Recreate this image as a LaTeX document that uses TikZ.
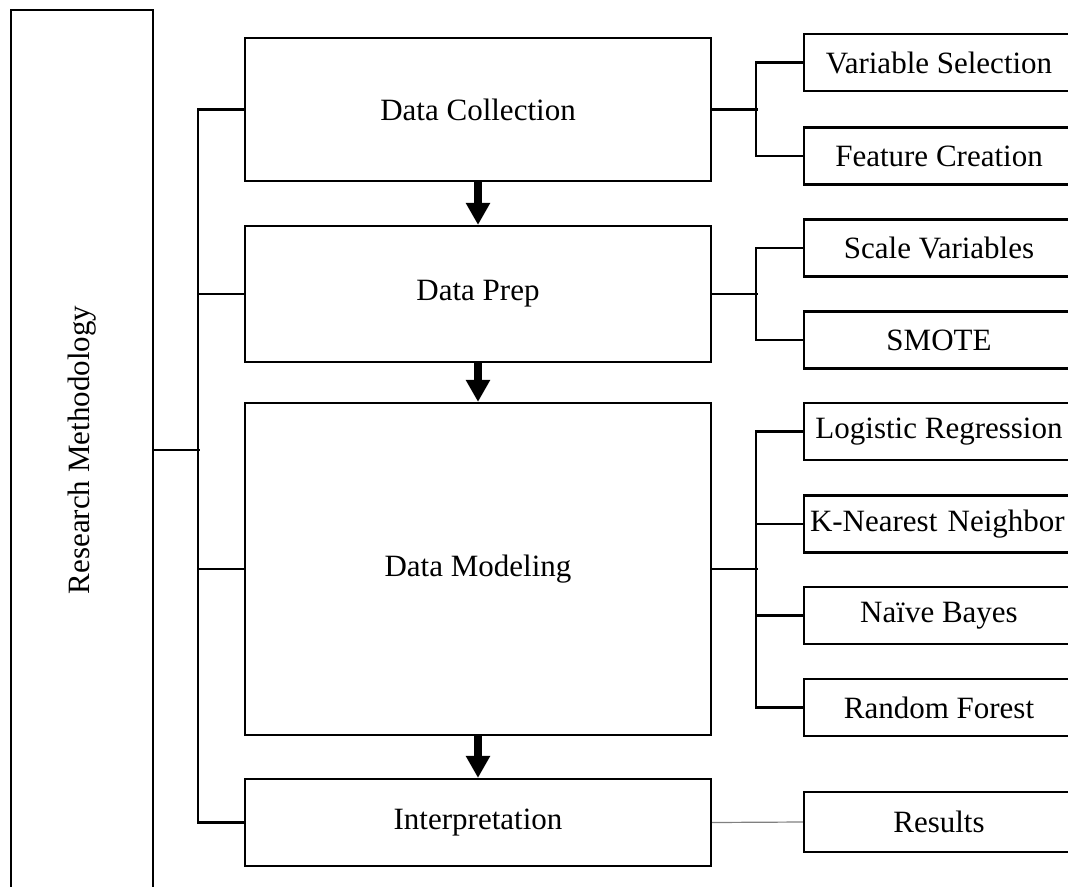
\documentclass[tikz,border=0pt]{standalone}
\usepackage{fontspec}
\setmainfont{Liberation Serif}
\usetikzlibrary{arrows.meta}
\begin{document}
\begin{tikzpicture}[x=1pt,y=-1pt,
  every node/.style={font=\fontsize{31}{37}\selectfont},
  mainbox/.style={draw, line width=2.2pt, inner sep=0pt, minimum width=466pt},
  subbox/.style={draw, line width=2.2pt, inner sep=0pt, minimum width=270pt, minimum height=57pt},
  linkline/.style={line width=2.2pt},
  flowarrow/.style={line width=8pt, -{Triangle[width=23pt,length=22pt]}}
]
\useasboundingbox (0,0) rectangle (1068,886);
\clip (0,0) rectangle (1068,886);

% overall frame on the left
\node[draw, line width=2.2pt, rotate=90, inner sep=0pt,
      minimum width=880pt, minimum height=142pt] (rm) at (82,450) {Research Methodology};

% main stages
\node[mainbox, minimum height=143pt] (dc) at (478,109.5) {Data Collection};
\node[mainbox, minimum height=136pt] (dp) at (478,294)   {Data Prep};
\node[mainbox, minimum height=332pt] (dm) at (478,569)   {Data Modeling};
\node[mainbox, minimum height=87pt]  (ip) at (478,822.5) {Interpretation};

% details of each stage
\node[subbox] (vs) at (939,62.5)  {Variable Selection};
\node[subbox] (fc) at (939,156)   {Feature Creation};
\node[subbox] (sv) at (939,248)   {Scale Variables};
\node[subbox] (sm) at (939,340)   {SMOTE};
\node[subbox] (lr) at (939,431.5) {Logistic Regression};
\node[subbox, text width=258pt, inner xsep=6pt, align=left] (kn) at (939,524) {K-Nearest Neighbor};
\node[subbox] (nb) at (939,615.5) {Naïve Bayes};
\node[subbox] (rf) at (939,707.5) {Random Forest};
\node[subbox, minimum height=60pt] (rs) at (939,822) {Results};

% flow between stages
\draw[flowarrow] (dc.south) -- (dp.north);
\draw[flowarrow] (dp.south) -- (dm.north);
\draw[flowarrow] (dm.south) -- (ip.north);

% left bus
\draw[linkline] (rm.south) -- ++(46,0);
\draw[linkline] (dc.west) -- ++(-46,0) |- (ip.west);
\draw[linkline] (dp.west) -- ++(-46,0);
\draw[linkline] (dm.west) -- ++(-46,0);

% right brackets
\draw[linkline] (dc.east) -- ++(46,0);
\draw[linkline] (vs.west) -- ++(-47,0) |- (fc.west);
\draw[linkline] (dp.east) -- ++(46,0);
\draw[linkline] (sv.west) -- ++(-47,0) |- (sm.west);
\draw[linkline] (dm.east) -- ++(46,0);
\draw[linkline] (lr.west) -- ++(-47,0) |- (rf.west);
\draw[linkline] (kn.west) -- ++(-47,0);
\draw[linkline] (nb.west) -- ++(-47,0);
\draw[gray, line width=1.2pt] (ip.east) -- (rs.west);
\end{tikzpicture}
\end{document}
